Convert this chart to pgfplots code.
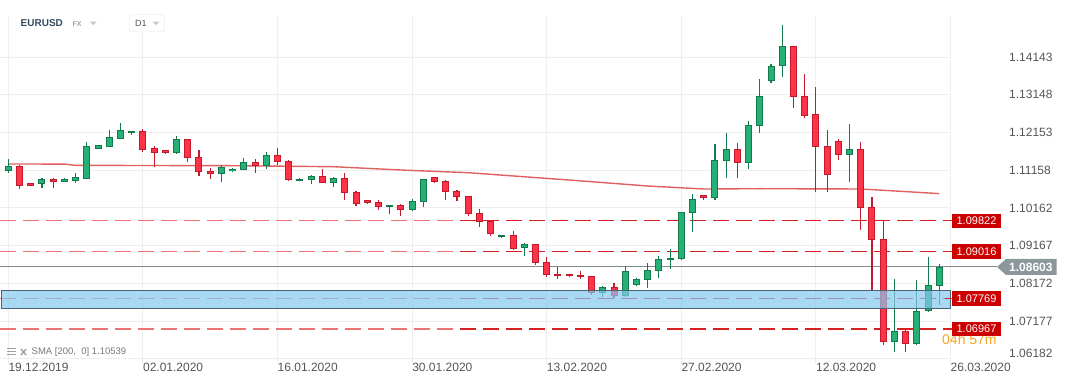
\documentclass[border=0pt]{standalone}
\usepackage{fontspec}
\setmainfont{Liberation Sans}
\usepackage{pgfplots}
\pgfplotsset{compat=1.18}
\usepackage{pgfplotstable}

\definecolor{gfill}{HTML}{27B076}
\definecolor{gline}{HTML}{137A4C}
\definecolor{rfill}{HTML}{FF3347}
\definecolor{rline}{HTML}{C21A2C}
\definecolor{lvl}{HTML}{D42020}
\definecolor{lvllight}{HTML}{EC7474}
\definecolor{lblred}{HTML}{CC0000}
\definecolor{gridc}{HTML}{EEEEEE}
\definecolor{txt}{HTML}{555555}
\definecolor{cur}{HTML}{7F8C8D}
\definecolor{curlbl}{HTML}{8C979C}
\definecolor{zone}{HTML}{84C8EC}
\definecolor{zoneb}{HTML}{4A6274}
\definecolor{sma}{HTML}{E06060}
\definecolor{timer}{HTML}{F5A623}
\definecolor{hdr}{HTML}{34495E}
\definecolor{light}{HTML}{9AA5AD}
\definecolor{tri}{HTML}{C4CACE}
\definecolor{boxc}{HTML}{DDE1E4}
\definecolor{legc}{HTML}{777777}
\definecolor{iconc}{HTML}{A0A0A0}

\pgfplotstableread{
i o h l c
0 1.11144 1.11445 1.11091 1.11268
1 1.11268 1.11281 1.10669 1.10748
2 1.10811 1.10832 1.10727 1.10748
3 1.10785 1.10951 1.10695 1.10917
4 1.10917 1.10951 1.10695 1.10853
5 1.10853 1.10951 1.10846 1.10917
6 1.10880 1.11083 1.10827 1.10970
7 1.10933 1.11901 1.10925 1.11788
8 1.11724 1.11822 1.11716 1.11814
9 1.11777 1.12218 1.11769 1.12025
10 1.11988 1.12403 1.11980 1.12210
11 1.12131 1.12192 1.12094 1.12184
12 1.12184 1.12244 1.11645 1.11698
13 1.11735 1.11796 1.11241 1.11603
14 1.11682 1.11690 1.11595 1.11603
15 1.11603 1.12060 1.11595 1.11972
16 1.11972 1.11980 1.11365 1.11471
17 1.11497 1.11690 1.11012 1.11102
18 1.11128 1.11207 1.10933 1.11049
19 1.11049 1.11286 1.10853 1.11234
20 1.11123 1.11207 1.11115 1.11181
21 1.11154 1.11471 1.11149 1.11365
22 1.11365 1.11453 1.11075 1.11260
23 1.11260 1.11637 1.11197 1.11550
24 1.11550 1.11743 1.11302 1.11365
25 1.11392 1.11418 1.10880 1.10906
26 1.10864 1.10943 1.10859 1.10917
27 1.10890 1.11022 1.10785 1.10996
28 1.10996 1.11181 1.10806 1.10811
29 1.10811 1.10970 1.10706 1.10943
30 1.10943 1.11083 1.10378 1.10547
31 1.10574 1.10600 1.10204 1.10257
32 1.10363 1.10370 1.10257 1.10283
33 1.10310 1.10363 1.10099 1.10178
34 1.10178 1.10231 1.09993 1.10231
35 1.10231 1.10257 1.09940 1.10099
36 1.10099 1.10389 1.10072 1.10336
37 1.10310 1.10925 1.10178 1.10917
38 1.10970 1.10978 1.10832 1.10838
39 1.10864 1.10890 1.10363 1.10574
40 1.10600 1.10627 1.10336 1.10442
41 1.10468 1.10476 1.09935 1.09988
42 1.10019 1.10125 1.09650 1.09782
43 1.09808 1.09816 1.09412 1.09465
44 1.09386 1.09447 1.09378 1.09439
45 1.09439 1.09544 1.09051 1.09085
46 1.09096 1.09228 1.08900 1.09201
47 1.09201 1.09209 1.08647 1.08700
48 1.08726 1.08858 1.08330 1.08383
49 1.08410 1.08594 1.08278 1.08357
50 1.08410 1.08417 1.08330 1.08357
51 1.08383 1.08489 1.08278 1.08330
52 1.08357 1.08365 1.07855 1.07908
53 1.07908 1.08093 1.07803 1.08066
54 1.08066 1.08172 1.07776 1.07829
55 1.07829 1.08621 1.07821 1.08489
56 1.08119 1.08304 1.08111 1.08278
57 1.08251 1.08700 1.08040 1.08515
58 1.08489 1.08885 1.08304 1.08805
59 1.08779 1.09069 1.08542 1.08832
60 1.08805 1.10054 1.08797 1.10046
61 1.10019 1.10521 1.09513 1.10389
62 1.10495 1.10503 1.10378 1.10431
63 1.10431 1.11848 1.10378 1.11418
64 1.11392 1.12139 1.10959 1.11709
65 1.11709 1.11875 1.10959 1.11339
66 1.11339 1.12455 1.11197 1.12342
67 1.12316 1.13564 1.12131 1.13107
68 1.13503 1.13952 1.13450 1.13899
69 1.13899 1.14989 1.13609 1.14427
70 1.14427 1.14435 1.12791 1.13081
71 1.13107 1.13696 1.12527 1.12580
72 1.12632 1.13353 1.10574 1.11761
73 1.11788 1.12218 1.10574 1.11022
74 1.11920 1.11972 1.11413 1.11550
75 1.11550 1.12376 1.10853 1.11709
76 1.11709 1.11893 1.09571 1.10151
77 1.10178 1.10442 1.07987 1.09307
78 1.09333 1.09824 1.06536 1.06615
79 1.06615 1.08278 1.06351 1.06905
80 1.06905 1.06958 1.06351 1.06562
81 1.06562 1.08251 1.06554 1.07433
82 1.07433 1.08874 1.07425 1.08119
83 1.08093 1.08673 1.07591 1.08603
}\candles

\pgfplotstableread{
i s
0 1.11321
5 1.11318
6 1.11285
20 1.11276
29 1.11249
35 1.11162
41 1.11091
50 1.10898
57 1.10740
62 1.10661
67 1.10669
76 1.10661
78 1.10627
83 1.10539
}\smatab

\begin{document}
\begin{tikzpicture}
\useasboundingbox (0pt,-386pt) rectangle (1069pt,0pt);
\begin{axis}[
  at={(0pt,-363.7pt)}, anchor=south west,
  scale only axis, width=950.5pt, height=348.6pt,
  xmin=-0.74, xmax=84, ymin=1.0605, ymax=1.1525,
  axis line style={draw=none},
  major tick length=0pt,
  xtick={0,12,24,36,48,60,72,84},
  xticklabels={19.12.2019,02.01.2020,16.01.2020,30.01.2020,13.02.2020,27.02.2020,12.03.2020,26.03.2020},
  ytick={1.07177,1.08172,1.09167,1.10162,1.11158,1.12153,1.13148,1.14143},
  yticklabels={1.07177,1.08172,1.09167,1.10162,1.11158,1.12153,1.13148,1.14143},
  extra y ticks={1.06182}, extra y tick labels={1.06182},
  extra y tick style={yticklabel style={yshift=5pt}},
  yticklabel pos=right,
  xmajorgrids=true, ymajorgrids=true,
  grid style={gridc, line width=0.9pt},
  xticklabel style={anchor=base west, inner sep=0pt, yshift=-8pt, font=\fontsize{12}{12}\selectfont, text=txt},
  yticklabel style={anchor=west, inner sep=0pt, xshift=58.5pt, font=\fontsize{12}{12}\selectfont, text=txt},
  clip=false,
  lvlA/.style={lvllight, line width=1.3pt, dash pattern=on 16pt off 7pt, forget plot},
  lvlB/.style={lvl, line width=1.2pt, dash pattern=on 16pt off 7pt, dash phase=20pt, forget plot},
]
% support / resistance levels
\addplot[lvlA] coordinates {(-0.74,1.09822) (40,1.09822)};
\addplot[lvlB] coordinates {(40,1.09822) (83.5,1.09822)};
\addplot[lvlA] coordinates {(-0.74,1.09016) (40,1.09016)};
\addplot[lvlB] coordinates {(40,1.09016) (83.5,1.09016)};
\addplot[lvlA] coordinates {(-0.74,1.07769) (40,1.07769)};
\addplot[lvlB] coordinates {(40,1.07769) (83.5,1.07769)};
\addplot[lvlA] coordinates {(-0.74,1.06967) (40,1.06967)};
\addplot[lvlB] coordinates {(40,1.06967) (83.5,1.06967)};
% current price
\addplot[cur, line width=1pt, forget plot] coordinates {(-0.74,1.08603) (84,1.08603)};
% SMA 200
\addplot[sma, line width=1.4pt, forget plot] table[x=i, y=s] {\smatab};

% wicks
\addplot[draw=none, mark=none, forget plot,
  restrict expr to domain={\thisrow{c}-\thisrow{o}}{0:1},
  error bars/.cd, y dir=both, y explicit, error mark=none,
  error bar style={draw=gline, line width=1.1pt}]
  table[x=i, y=h, y error plus expr=0, y error minus expr={\thisrow{h}-\thisrow{l}}] {\candles};
\addplot[draw=none, mark=none, forget plot,
  restrict expr to domain={\thisrow{c}-\thisrow{o}}{-1:0},
  error bars/.cd, y dir=both, y explicit, error mark=none,
  error bar style={draw=rline, line width=1.1pt}]
  table[x=i, y=h, y error plus expr=0, y error minus expr={\thisrow{h}-\thisrow{l}}] {\candles};
% bodies: border
\addplot[draw=none, mark=none, forget plot,
  restrict expr to domain={\thisrow{c}-\thisrow{o}}{0:1},
  error bars/.cd, y dir=both, y explicit, error mark=none,
  error bar style={draw=gline, line width=7pt, line cap=butt}]
  table[x=i, y=c, y error plus expr=0, y error minus expr={\thisrow{c}-\thisrow{o}}] {\candles};
\addplot[draw=none, mark=none, forget plot,
  restrict expr to domain={\thisrow{c}-\thisrow{o}}{-1:0},
  error bars/.cd, y dir=both, y explicit, error mark=none,
  error bar style={draw=rline, line width=7pt, line cap=butt}]
  table[x=i, y=o, y error plus expr=0, y error minus expr={\thisrow{o}-\thisrow{c}}] {\candles};
% bodies: fill
\addplot[draw=none, mark=none, forget plot,
  restrict expr to domain={\thisrow{c}-\thisrow{o}}{0:1},
  error bars/.cd, y dir=both, y explicit, error mark=none,
  error bar style={draw=gfill, line width=5pt, line cap=butt}]
  table[x=i, y expr={\thisrow{c}-0.00026}, y error plus expr=0, y error minus expr={max(\thisrow{c}-\thisrow{o}-0.00053,0)}] {\candles};
\addplot[draw=none, mark=none, forget plot,
  restrict expr to domain={\thisrow{c}-\thisrow{o}}{-1:0},
  error bars/.cd, y dir=both, y explicit, error mark=none,
  error bar style={draw=rfill, line width=5pt, line cap=butt}]
  table[x=i, y expr={\thisrow{o}-0.00026}, y error plus expr=0, y error minus expr={max(\thisrow{o}-\thisrow{c}-0.00053,0)}] {\candles};

% demand zone
\addplot[fill=zone, fill opacity=0.7, draw=zoneb, line width=1pt, forget plot]
  coordinates {(-0.6,1.07520) (84,1.07520) (84,1.07995) (-0.6,1.07995)} -- cycle;

\coordinate (lvA) at (axis cs:84,1.09822);
\coordinate (lvB) at (axis cs:84,1.09016);
\coordinate (lvC) at (axis cs:84,1.07769);
\coordinate (lvD) at (axis cs:84,1.06967);
\coordinate (cp) at (axis cs:84,1.08603);
\end{axis}

% small solid ticks at the end of the levels
\foreach \c in {lvA,lvB,lvC,lvD}{
  \draw[lvl, line width=1.2pt] ([xshift=-5.5pt]\c) -- ([xshift=2pt]\c);
}
% timer
\node[anchor=west, inner sep=0pt, font=\fontsize{14}{14}\selectfont, text=timer] at ([xshift=-8.5pt,yshift=-10.5pt]lvD) {04h 57m};
% level labels
\foreach \c/\t in {lvA/1.09822,lvB/1.09016,lvC/1.07769,lvD/1.06967}{
  \node[fill=lblred, text=white, minimum width=49pt, minimum height=14.5pt, inner sep=0pt,
        font=\fontsize{11}{11}\selectfont] at ([xshift=26pt]\c) {\t};
}
% current price label
\draw[cur, line width=1pt] (cp) -- ([xshift=46.5pt]cp);
\fill[curlbl] ([xshift=46.5pt]cp) -- ([xshift=55.5pt,yshift=8pt]cp) -- ([xshift=106pt,yshift=8pt]cp)
  -- ([xshift=106pt,yshift=-8pt]cp) -- ([xshift=55.5pt,yshift=-8pt]cp) -- cycle;
\node[anchor=west, inner sep=0pt, text=white, font=\fontsize{12}{12}\selectfont\bfseries] at ([xshift=58.5pt]cp) {1.08603};

% header
\node[anchor=west, inner sep=0pt, font=\fontsize{10}{10}\selectfont\bfseries, text=hdr] at (20.5pt,-23.3pt) {EURUSD};
\node[anchor=west, inner sep=0pt, font=\fontsize{7}{7}\selectfont\bfseries, text=light] at (72.5pt,-24pt) {FX};
\fill[tri] (89.5pt,-21.5pt) -- (97pt,-21.5pt) -- (93.25pt,-25pt) -- cycle;
\draw[boxc, rounded corners=2pt, fill=white] (129.5pt,-14.5pt) rectangle (164.5pt,-31.5pt);
\node[anchor=west, inner sep=0pt, font=\fontsize{9}{9}\selectfont, text=txt] at (135pt,-23.5pt) {D1};
\fill[tri] (152.5pt,-21.5pt) -- (159.5pt,-21.5pt) -- (156pt,-25pt) -- cycle;

% legend of the indicator
\fill[iconc] (6.5pt,-347.8pt) rectangle (16pt,-349.3pt);
\fill[iconc] (6.5pt,-350.8pt) rectangle (16pt,-352.3pt);
\fill[iconc] (6.5pt,-353.8pt) rectangle (16pt,-355.3pt);
\draw[iconc, line width=1.4pt] (21pt,-349pt) -- (26pt,-355pt) (21pt,-355pt) -- (26pt,-349pt);
\node[anchor=west, inner sep=0pt, font=\fontsize{9.5}{9.5}\selectfont, text=legc] at (31.5pt,-352.5pt) {SMA [200,\ \ 0] 1.10539};
\end{tikzpicture}
\end{document}
